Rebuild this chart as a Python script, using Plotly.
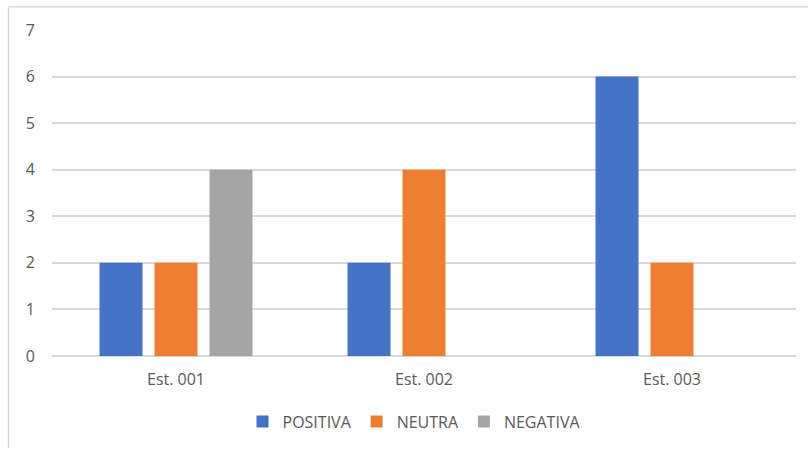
import plotly.graph_objects as go

categories = ["Est. 001", "Est. 002", "Est. 003"]
positiva = [2, 2, 6]
neutra = [2, 4, 2]
negativa = [4, 0, 0]

series = [
    ("POSITIVA", positiva, "#4472C4"),
    ("NEUTRA", neutra, "#ED7D31"),
    ("NEGATIVA", negativa, "#A5A5A5"),
]

fig = go.Figure()
for name, vals, color in series:
    fig.add_trace(go.Bar(x=categories, y=vals, name=name, marker_color=color,
                         marker_line_width=0))

W, H = 808, 451
L, R, T, B = 52, 12, 30, 93
pw, ph = W - L - R, H - T - B

def px_to_paper_x(px):
    return (px - L) / pw

def px_to_paper_y(py):
    return (H - B - py) / ph

border = "#D9D9D9"
fs = 16
fig.update_layout(
    width=W, height=H,
    margin=dict(l=L, r=R, t=T, b=B),
    paper_bgcolor="white", plot_bgcolor="white",
    barmode="group", bargap=0.335, bargroupgap=0.218,
    font=dict(family="Open Sans", size=fs, color="#595959"),
    xaxis=dict(showgrid=False, showline=False, ticks="", tickfont=dict(size=fs),
               ticklabelstandoff=12),
    yaxis=dict(range=[0, 7], dtick=1, showgrid=True, gridcolor=border, gridwidth=1.5,
               zeroline=True, zerolinecolor=border, zerolinewidth=1.5,
               showline=False, ticks="", tickfont=dict(size=fs), ticklabelstandoff=16),
    legend=dict(orientation="h", x=px_to_paper_x(414), xanchor="center", y=px_to_paper_y(424),
                yanchor="middle", font=dict(size=fs, color="#595959"),
                itemwidth=30, traceorder="normal"),
    showlegend=True,
    shapes=[
        dict(type="line", xref="paper", yref="paper",
             x0=px_to_paper_x(8.5), x1=px_to_paper_x(808), y0=px_to_paper_y(6.5), y1=px_to_paper_y(6.5),
             line=dict(color=border, width=1.5)),
        dict(type="line", xref="paper", yref="paper",
             x0=px_to_paper_x(8.5), x1=px_to_paper_x(8.5), y0=px_to_paper_y(6.5), y1=px_to_paper_y(451),
             line=dict(color=border, width=1.5)),
    ],
)

fig.write_html("out.html")
